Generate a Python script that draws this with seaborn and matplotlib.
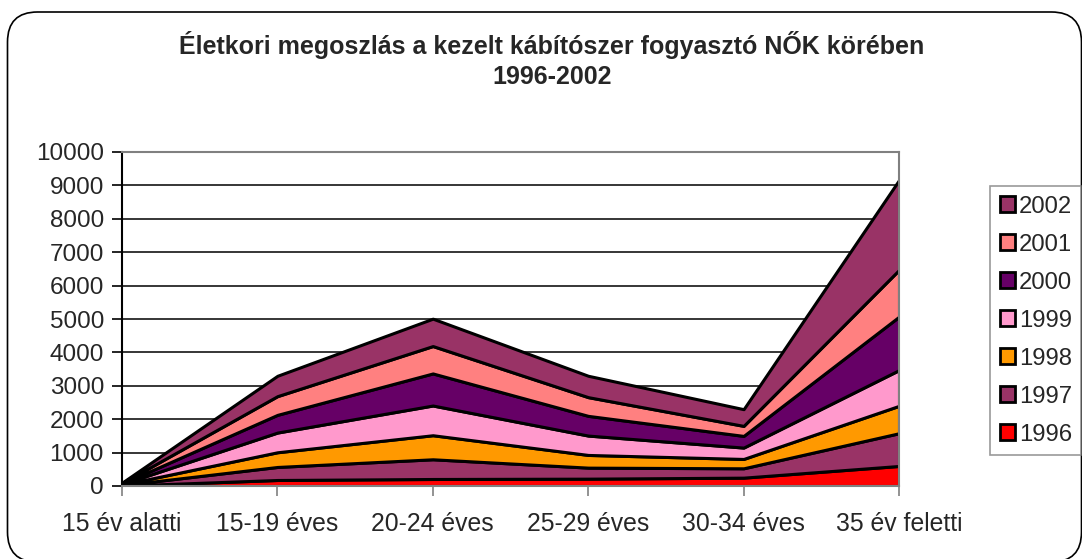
import numpy as np
import pandas as pd
import matplotlib
matplotlib.use("Agg")
import matplotlib.pyplot as plt
from matplotlib.patches import Patch, FancyBboxPatch
from matplotlib.transforms import IdentityTransform
import seaborn as sns

categories = ["15 év alatti", "15-19 éves", "20-24 éves", "25-29 éves", "30-34 éves", "35 év feletti"]
years = ["1996", "1997", "1998", "1999", "2000", "2001", "2002"]

v1996 = [10, 180, 210, 220, 250, 600]
v1997 = [15, 390, 590, 330, 280, 980]
v1998 = [15, 440, 720, 380, 280, 820]
v1999 = [15, 590, 890, 580, 340, 1070]
v2000 = [15, 530, 960, 590, 350, 1600]
v2001 = [15, 560, 820, 560, 300, 1400]
v2002 = [15, 610, 820, 640, 500, 2690]

colors = ["#FF0000", "#993366", "#FF9900", "#FF99CC", "#660066", "#FF8080", "#993366"]

df = pd.DataFrame({"1996": v1996, "1997": v1997, "1998": v1998, "1999": v1999,
                   "2000": v2000, "2001": v2001, "2002": v2002}, index=categories)

sns.set_style("white")
plt.rcParams["font.family"] = ["Liberation Sans", "DejaVu Sans"]

fig = plt.figure(figsize=(10.82, 5.59), dpi=100)
ax = fig.add_axes([122/1082, 1-486/559, (899-122)/1082, (486-152)/559])

# rounded chart border (pixel coordinates)
border = FancyBboxPatch((7.5, -3), 1074, 550, boxstyle="round,pad=0,rounding_size=30",
                        transform=IdentityTransform(), fill=False,
                        edgecolor="black", linewidth=1.2)
fig.patches.append(border)

x = np.arange(len(categories))
ax.stackplot(x, [df[y].values for y in years], colors=colors,
             edgecolor="black", linewidth=2.2, zorder=3)

ax.set_xlim(0, len(categories) - 1)
ax.set_ylim(0, 10000)
ax.set_yticks(range(0, 10001, 1000))
ax.set_xticks(x)
ax.set_xticklabels(categories)
ax.yaxis.grid(True, color="black", linewidth=1.1, zorder=1)
ax.set_axisbelow(True)

for s in ["top", "right", "bottom"]:
    ax.spines[s].set_color("#808080")
    ax.spines[s].set_linewidth(1.5)
ax.spines["left"].set_color("black")
ax.spines["left"].set_linewidth(1.5)
ax.spines["bottom"].set_zorder(5)
ax.spines["right"].set_zorder(5)

ax.tick_params(axis="y", direction="out", length=7, width=1.2, color="black",
               labelsize=17.5, pad=6, left=True)
ax.tick_params(axis="x", direction="out", length=7, width=1.2, color="#808080",
               labelsize=17.8, pad=12, bottom=True)

fig.text(552/1082, 1 - 45/559, "Életkori megoszlás a kezelt kábítószer fogyasztó NŐK körében",
         ha="center", va="center", fontsize=18, fontweight="bold")
fig.text(552/1082, 1 - 77/559, "1996-2002", ha="center", va="center",
         fontsize=18, fontweight="bold")

handles = [Patch(facecolor=colors[i], edgecolor="black", linewidth=2, label=years[i])
           for i in range(len(years) - 1, -1, -1)]
leg = fig.legend(handles=handles, loc="upper left", bbox_to_anchor=(990/1082, 1 - 186/559),
                 frameon=True, fontsize=17.2, handlelength=0.65, handleheight=0.65,
                 handletextpad=0.15, labelspacing=0.67, borderpad=0.4, borderaxespad=0,
                 fancybox=False)
leg.get_frame().set_edgecolor("#808080")
leg.get_frame().set_linewidth(1.2)

fig.savefig("out.png", dpi=100)
